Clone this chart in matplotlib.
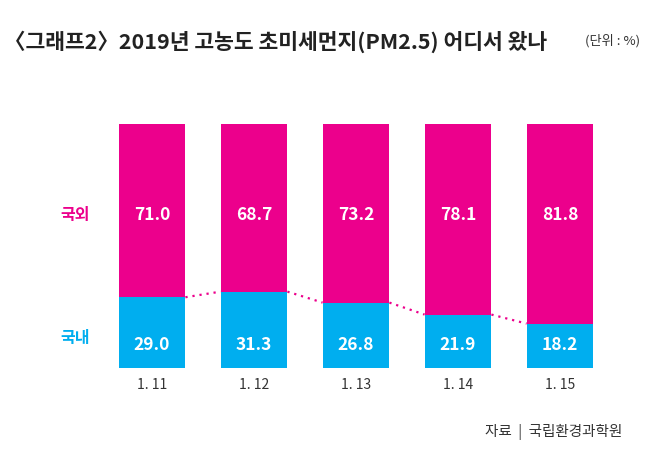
import numpy as np
import matplotlib
matplotlib.use("Agg")
import matplotlib.pyplot as plt

plt.rcParams['font.family'] = ['Noto Sans CJK KR', 'DejaVu Sans']

dates = ["1. 11", "1. 12", "1. 13", "1. 14", "1. 15"]
domestic = [29.0, 31.3, 26.8, 21.9, 18.2]   # 국내
foreign = [71.0, 68.7, 73.2, 78.1, 81.8]    # 국외

pink = "#EC008C"
blue = "#00AEEF"

fig = plt.figure(figsize=(6.5, 4.66), dpi=100)
ax = fig.add_axes([101 / 650, 1 - 368 / 466, 510 / 650, 244 / 466])

x = np.arange(len(dates))
w = 0.655
ax.bar(x, domestic, width=w, color=blue, linewidth=0)
ax.bar(x, foreign, width=w, bottom=domestic, color=pink, linewidth=0)

# dotted line joining the tops of the domestic bars
for i in range(len(x) - 1):
    ax.plot([x[i] + w / 2, x[i + 1] - w / 2], [domestic[i], domestic[i + 1]],
            linestyle=(0, (1, 2.2)), color=pink, linewidth=1.6)

for i in range(len(x)):
    ax.text(x[i], 62.5, f"{foreign[i]:.1f}", ha="center", va="center",
            color="white", fontsize=12.5, fontweight="bold")
    ax.text(x[i], 9.5, f"{domestic[i]:.1f}", ha="center", va="center",
            color="white", fontsize=12.5, fontweight="bold")

ax.text(-0.75, 62.5, "국외", ha="center", va="center", color=pink,
        fontsize=11.5, fontweight="bold")
ax.text(-0.75, 12.5, "국내", ha="center", va="center", color=blue,
        fontsize=11.5, fontweight="bold")

ax.set_xlim(-0.5, 4.5)
ax.set_ylim(0, 100)
ax.set_xticks(x)
ax.set_xticklabels(dates, fontsize=10, color="#333333")
ax.tick_params(axis="x", length=0, pad=7)
ax.set_yticks([])
for s in ax.spines.values():
    s.set_visible(False)

fig.text(4 / 650, 1 - 42 / 466, "〈그래프2〉2019년 고농도 초미세먼지(PM2.5) 어디서 왔나",
         ha="left", va="center", fontsize=15.5, fontweight="bold", color="#222222")
fig.text(640 / 650, 1 - 41 / 466, "(단위 : %)", ha="right", va="center",
         fontsize=9.5, color="#333333")
fig.text(622 / 650, 1 - 432 / 466, "자료  |  국립환경과학원", ha="right", va="center",
         fontsize=10.5, color="#333333")

fig.savefig("out.png", dpi=100)
